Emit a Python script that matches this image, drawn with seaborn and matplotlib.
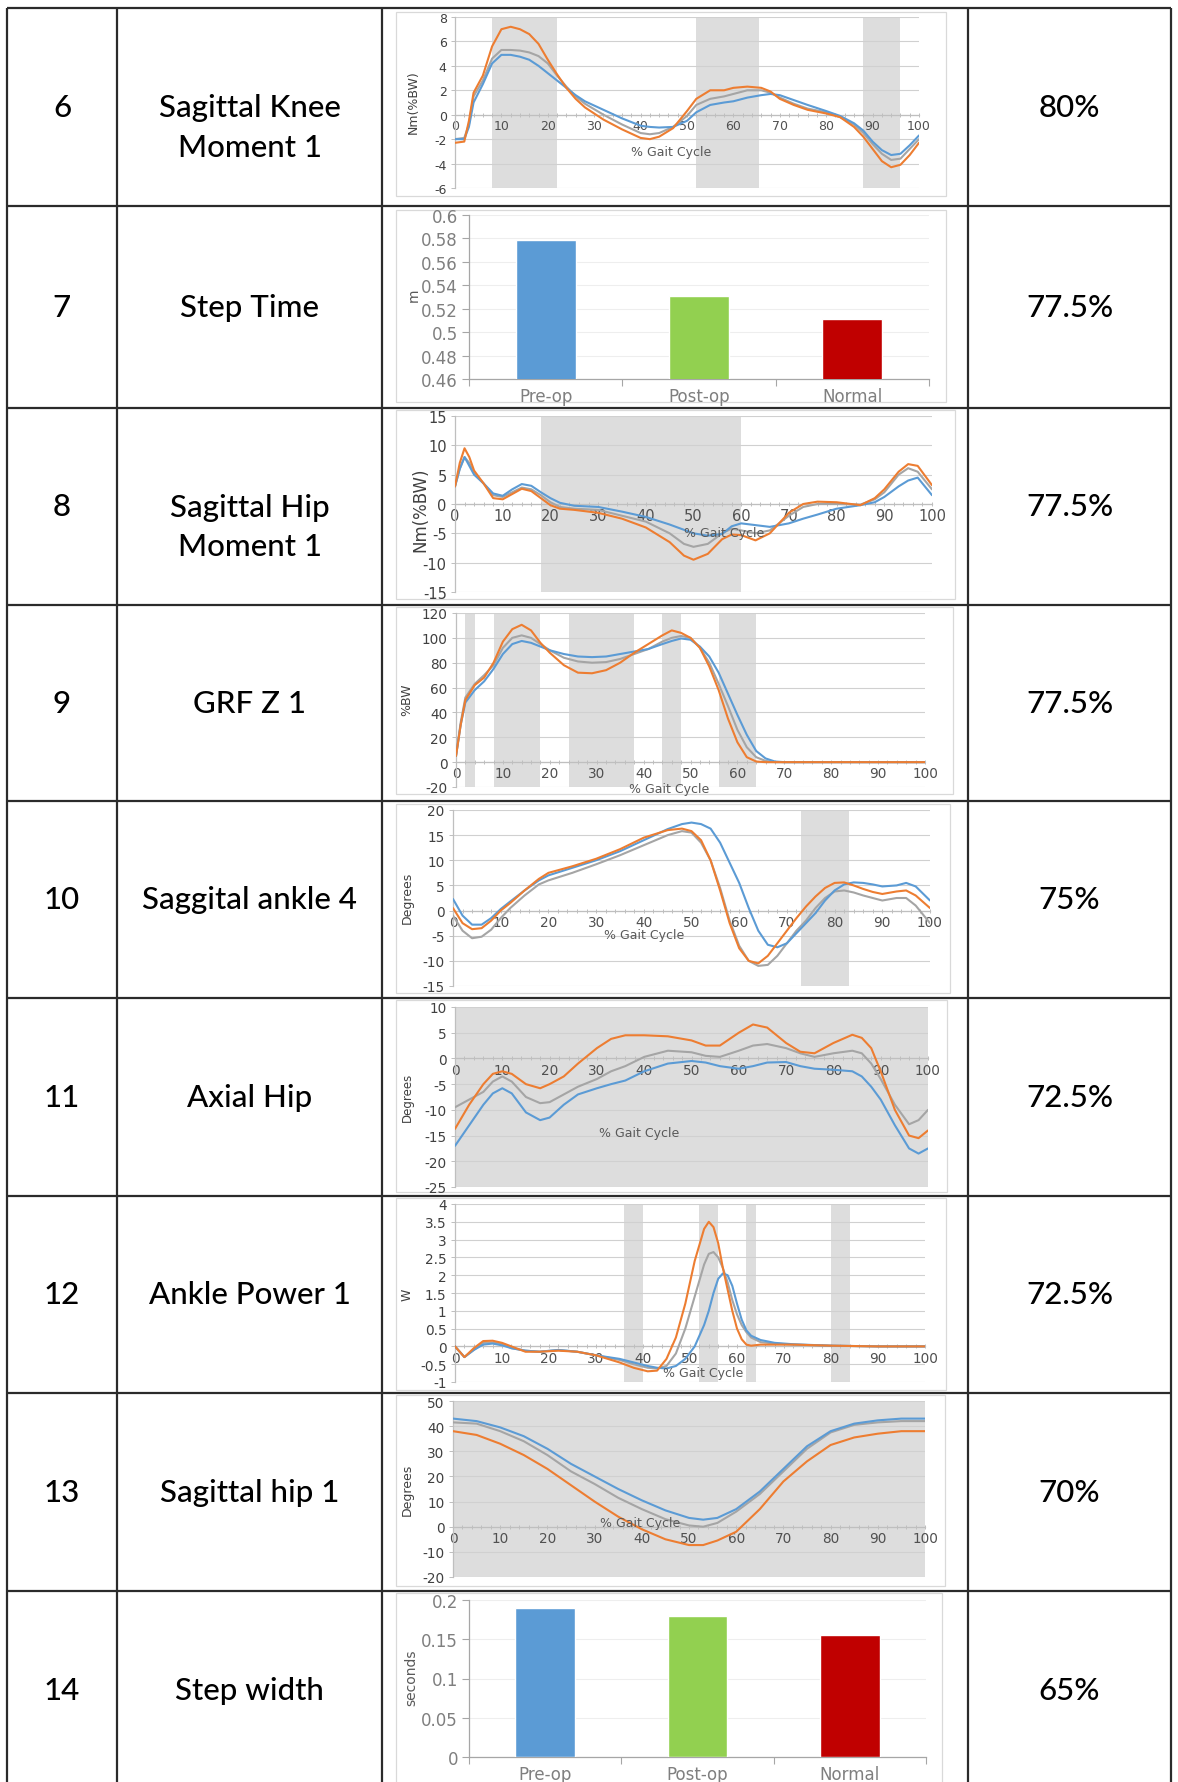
import matplotlib
matplotlib.use('Agg')
import matplotlib.pyplot as plt
import seaborn as sns
import pandas as pd
from matplotlib.patches import Rectangle
from matplotlib.ticker import MultipleLocator, FuncFormatter, FixedLocator

sns.set_theme(style='white')
plt.rcParams['font.family'] = ['DejaVu Sans']
plt.rcParams['axes.unicode_minus'] = False

W, H = 1178, 1783

# ---- table text ----
row_nums = ['6', '7', '8', '9', '10', '11', '12', '13', '14']
row_names = ['Sagittal Knee\nMoment 1', 'Step Time', 'Sagittal Hip\nMoment 1', 'GRF Z 1',
             'Saggital ankle 4', 'Axial Hip', 'Ankle Power 1', 'Sagittal hip 1', 'Step width']
row_pcts = ['80%', '77.5%', '77.5%', '77.5%', '75%', '72.5%', '72.5%', '70%', '65%']

# ---- bar charts ----
groups = ['Pre-op', 'Post-op', 'Normal']
step_time = [0.579, 0.531, 0.511]
step_width = [0.19, 0.18, 0.155]

# ---- Sagittal knee moment ----
knee_x = [0, 2, 3, 4, 6, 8, 10, 12, 14, 16, 18, 20, 22, 24, 26, 28, 32, 36, 40, 42, 44, 47, 50, 52,
          55, 58, 60, 63, 66, 68, 70, 73, 76, 80, 83, 86, 88, 90, 92, 94, 96, 98, 100]
knee_pre = [-2.0, -2.0, -1.0, 1.0, 2.5, 4.2, 4.9, 4.9, 4.75, 4.5, 4.0, 3.4, 2.8, 2.2, 1.6, 1.1, 0.4,
            -0.3, -0.9, -1.0, -1.05, -1.0, -0.5, 0.2, 0.8, 1.0, 1.1, 1.4, 1.6, 1.7, 1.6, 1.2, 0.8,
            0.3, -0.1, -0.7, -1.3, -2.2, -2.9, -3.3, -3.2, -2.5, -1.7]
knee_post = [-2.3, -2.2, -0.5, 1.8, 3.2, 5.6, 7.0, 7.2, 7.0, 6.6, 5.8, 4.5, 3.3, 2.2, 1.3, 0.6, -0.4,
             -1.2, -1.9, -2.0, -1.8, -1.1, 0.3, 1.3, 2.0, 2.0, 2.2, 2.3, 2.2, 1.9, 1.3, 0.8, 0.4,
             0.1, -0.2, -1.0, -1.8, -2.8, -3.8, -4.3, -4.1, -3.3, -2.3]
knee_norm = [-2.0, -1.9, -0.8, 1.5, 2.8, 4.6, 5.3, 5.3, 5.25, 5.1, 4.8, 4.2, 3.2, 2.3, 1.5, 0.9, 0.0,
             -0.8, -1.5, -1.6, -1.5, -1.0, -0.1, 0.8, 1.3, 1.5, 1.7, 2.0, 2.0, 1.8, 1.4, 0.9, 0.5,
             0.2, -0.2, -0.8, -1.5, -2.4, -3.2, -3.7, -3.6, -2.8, -2.0]

# ---- Sagittal hip moment ----
hipm_x = [0, 1, 2, 3, 4, 6, 8, 10, 12, 14, 16, 18, 20, 22, 25, 30, 35, 40, 45, 48,
          50, 53, 56, 58, 60, 63, 66, 70, 73, 76, 80, 85, 88, 90, 93, 95, 97, 100]
hipm_pre = [3, 6, 8, 6.5, 5, 3.5, 1.8, 1.4, 2.5, 3.4, 3.1, 2.0, 1.0, 0.2, -0.3, -0.5, -1.3, -2.2,
            -3.5, -4.4, -5.0, -5.4, -5.1, -3.8, -3.3, -3.6, -3.9, -3.3, -2.5, -1.8, -0.8, -0.2,
            0.3, 1.2, 3.0, 4.0, 4.5, 1.5]
hipm_post = [3, 7, 9.5, 8, 5.7, 3.5, 1.0, 0.8, 1.7, 2.6, 2.2, 1.0, -0.2, -0.8, -1.0, -1.5, -2.5,
             -4.0, -6.5, -8.8, -9.5, -8.5, -6.0, -5.2, -5.3, -6.2, -5.0, -1.5, 0.0, 0.4, 0.3,
             -0.2, 1.0, 2.5, 5.5, 6.8, 6.5, 3.2]
hipm_norm = [3, 6, 8, 7, 5.3, 3.5, 1.5, 1.2, 2.0, 2.8, 2.5, 1.5, 0.3, -0.5, -0.8, -1.0, -2.0, -3.0,
             -5.0, -6.8, -7.3, -6.8, -5.0, -4.2, -4.5, -5.0, -4.5, -2.0, -0.5, 0.0, 0.0, -0.1,
             0.8, 2.0, 5.0, 6.1, 5.5, 2.5]

# ---- GRF Z ----
grf_x = [0, 1, 2, 4, 6, 8, 10, 12, 14, 16, 18, 20, 23, 26, 29, 32, 35, 38, 41, 44,
         46, 48, 50, 52, 54, 56, 58, 60, 62, 64, 66, 68, 70, 80, 90, 100]
grf_pre = [5, 30, 48, 58, 65, 75, 87, 95, 97.5, 96, 93, 90, 87, 85, 84.5, 85, 87, 89, 91, 95,
           97.5, 99.5, 98.5, 93, 85, 72, 55, 38, 22, 9, 3, 0.5, 0, 0, 0, 0]
grf_post = [5, 30, 50, 62, 68, 80, 97, 107, 110.5, 106, 96, 88, 78, 72, 71.5, 74, 80, 88, 95, 102,
            106, 104, 100, 92, 77, 58, 35, 16, 4, 0.5, 0, 0, 0, 0, 0, 0]
grf_norm = [5, 32, 52, 63, 70, 78, 92, 100, 102, 100, 95, 90, 84, 81, 80, 80.5, 83, 87, 91, 97,
            100, 101.5, 100, 92, 80, 63, 45, 26, 12, 4, 1, 0, 0, 0, 0, 0]

# ---- Sagittal ankle ----
ank_x = [0, 2, 4, 6, 8, 10, 12, 15, 18, 20, 25, 30, 35, 40, 45, 48, 50, 52, 54, 56,
         58, 60, 62, 64, 66, 68, 70, 72, 74, 76, 78, 80, 82, 84, 86, 88, 90, 93, 95, 97, 100]
ank_pre = [2.3, -1.0, -2.8, -2.8, -1.5, 0.3, 1.8, 4.0, 6.0, 7.0, 8.5, 10.0, 11.8, 14.0, 16.2, 17.2,
           17.5, 17.2, 16.3, 13.5, 9.5, 5.5, 0.5, -4.0, -6.8, -7.3, -6.5, -4.5, -2.5, -0.5, 2.0,
           4.0, 5.2, 5.6, 5.5, 5.2, 4.8, 5.0, 5.5, 4.8, 2.0]
ank_post = [0.5, -2.5, -3.7, -3.5, -2.0, 0.0, 1.5, 4.0, 6.3, 7.5, 8.8, 10.3, 12.2, 14.5, 16.0, 16.3,
            15.8, 14.0, 10.0, 4.0, -2.5, -7.5, -10.0, -10.5, -9.0, -6.5, -4.0, -1.5, 0.8, 2.8,
            4.5, 5.5, 5.6, 5.0, 4.3, 3.7, 3.3, 3.8, 4.0, 3.0, 0.5]
ank_norm = [-1.0, -4.0, -5.5, -5.2, -3.8, -1.5, 0.5, 3.0, 5.2, 6.0, 7.5, 9.2, 11.0, 13.0, 15.0, 15.8,
            15.5, 13.5, 10.0, 4.5, -2.0, -7.0, -10.0, -11.0, -10.8, -9.0, -6.5, -4.0, -2.0, 0.5,
            2.5, 3.8, 4.0, 3.6, 3.0, 2.5, 2.0, 2.5, 2.5, 1.0, -2.5]

# ---- Axial hip ----
axh_x = [0, 3, 6, 8, 10, 12, 15, 18, 20, 23, 26, 30, 33, 36, 40, 45, 50, 53, 56, 60,
         63, 66, 70, 73, 76, 80, 84, 86, 88, 90, 93, 96, 98, 100]
axh_pre = [-17, -13, -9, -6.8, -5.8, -6.8, -10.5, -12, -11.5, -9, -7, -5.8, -5.0, -4.3, -2.5, -1.0,
           -0.5, -0.8, -1.5, -2.0, -1.5, -0.8, -0.7, -1.5, -2.0, -2.2, -2.5, -3.5, -5.5, -8,
           -13, -17.5, -18.5, -17.5]
axh_post = [-13.7, -9, -5, -3, -2.5, -3.0, -5.0, -5.8, -5.0, -3.5, -1.0, 2.0, 3.8, 4.5, 4.5, 4.3,
            3.5, 2.5, 2.5, 5.0, 6.6, 6.0, 3.0, 1.3, 1.0, 3.0, 4.6, 4.0, 2.0, -2.5, -10, -15,
            -15.5, -14]
axh_norm = [-9.5, -8, -6.5, -4.5, -3.5, -4.5, -7.5, -8.7, -8.5, -7.0, -5.5, -4.0, -2.5, -1.5, 0.3,
            1.5, 1.2, 0.5, 0.3, 1.5, 2.5, 2.8, 2.0, 1.0, 0.3, 1.0, 1.5, 1.0, -1.0, -4.0, -9,
            -12.8, -12, -10]

# ---- Ankle power ----
pow_x = [0, 2, 4, 6, 8, 10, 12, 15, 18, 22, 26, 30, 35, 38, 41, 43, 45, 47, 49, 51,
         53, 54, 55, 56, 57, 58, 59, 60, 61, 62, 63, 65, 68, 72, 80, 90, 100]
pow_pre = [0, -0.3, -0.1, 0.05, 0.08, 0.03, -0.05, -0.12, -0.15, -0.1, -0.15, -0.25, -0.35, -0.45,
           -0.55, -0.6, -0.62, -0.55, -0.35, 0.0, 0.6, 1.0, 1.5, 1.9, 2.05, 2.0, 1.7, 1.2, 0.75,
           0.45, 0.3, 0.18, 0.1, 0.06, 0.02, 0.0, 0.0]
pow_post = [0, -0.3, -0.05, 0.15, 0.16, 0.1, 0.0, -0.15, -0.15, -0.12, -0.15, -0.25, -0.45, -0.6,
            -0.7, -0.68, -0.35, 0.25, 1.2, 2.4, 3.3, 3.5, 3.35, 2.9, 2.2, 1.6, 1.0, 0.5, 0.2,
            0.05, 0.02, 0.05, 0.05, 0.05, 0.02, 0.0, 0.0]
pow_norm = [0, -0.3, -0.1, 0.1, 0.11, 0.07, -0.05, -0.12, -0.15, -0.1, -0.15, -0.25, -0.38, -0.5,
            -0.6, -0.62, -0.55, -0.2, 0.5, 1.4, 2.3, 2.6, 2.65, 2.5, 2.2, 1.8, 1.3, 0.9, 0.6,
            0.4, 0.25, 0.12, 0.08, 0.05, 0.02, 0.0, 0.0]

# ---- Sagittal hip ----
sh_x = [0, 5, 10, 15, 20, 25, 30, 35, 40, 45, 50, 53, 56, 60, 65, 70, 75, 80, 85, 90, 95, 100]
sh_pre = [43, 42, 39.5, 36, 31, 25, 20, 15, 10.5, 6.5, 3.5, 2.8, 3.5, 7, 14, 23, 32, 38, 41, 42.3, 43, 43]
sh_post = [38, 36.5, 33, 28.5, 23, 16.5, 10, 4, -1, -5, -7.3, -7.3, -5.5, -2, 7, 18, 26, 32.5, 35.5, 37, 38, 38]
sh_norm = [41.5, 41, 38, 34, 28.5, 22, 17, 11.5, 7, 3, 0.5, 0, 1.5, 6, 13, 22, 31, 37.5, 40.5, 41.5, 42, 42]

LINE_COLORS = {'Pre-op': '#5B9BD5', 'Post-op': '#ED7D31', 'Normal': '#A5A5A5'}
BAR_COLORS = {'Pre-op': '#5B9BD5', 'Post-op': '#92D050', 'Normal': '#C00000'}
SHADE = '#dddddd'
GRID = '#d0d0d0'
AXC = '#bfbfbf'
TXT = '#595959'
NARROW = ['Liberation Sans Narrow', 'DejaVu Sans']


def rect(x0, y0, x1, y1):
    return [x0 / W, 1 - y1 / H, (x1 - x0) / W, (y1 - y0) / H]


def gfmt(v, _):
    return f'{round(v, 4):g}'


fig = plt.figure(figsize=(W / 100, H / 100), dpi=100)

# ---- table grid and text ----
bg = fig.add_axes([0, 0, 1, 1])
bg.set_xlim(0, W)
bg.set_ylim(H, 0)
bg.axis('off')

row_y = [9, 207, 409, 606, 802, 999, 1197, 1394, 1592, 1790]
col_x = [7, 117, 382, 968, 1171]
for y in row_y[:-1]:
    bg.plot([col_x[0], col_x[-1]], [y, y], color='#2b2b2b', lw=1.6, solid_capstyle='butt')
for x in col_x:
    bg.plot([x, x], [row_y[0], H], color='#2b2b2b', lw=1.6, solid_capstyle='butt')

table_font = ['Lato', 'DejaVu Sans']
for i in range(len(row_nums)):
    cy = (row_y[i] + row_y[i + 1]) / 2
    bg.text((col_x[0] + col_x[1]) / 2, cy, row_nums[i], ha='center', va='center',
            fontsize=22.5, family=table_font, weight=500, color='black')
    for j, line in enumerate(row_names[i].split('\n')):
        bg.text((col_x[1] + col_x[2]) / 2, cy + 40 * j, line, ha='center', va='center',
                fontsize=22.5, family=table_font, weight=500, color='black')
    bg.text((col_x[3] + col_x[4]) / 2, cy, row_pcts[i], ha='center', va='center',
            fontsize=22.5, family=table_font, weight=500, color='black')

# chart frames
frames = [(396, 13, 946, 197), (396, 211, 946, 403), (396, 411, 955, 600), (396, 608, 953, 795),
          (396, 805, 950, 994), (396, 1001, 947, 1193), (396, 1199, 946, 1391),
          (396, 1396, 945, 1587), (396, 1594, 942, 1800)]
for x0, y0, x1, y1 in frames:
    bg.add_patch(Rectangle((x0, y0), x1 - x0, y1 - y0, fill=False, ec='#d9d9d9', lw=0.9))


def gait_chart(box, x, pre, post, norm, ylim, ystep, spans, xlab, ylab, ylab_px,
               ylab_size=9, tick_size=9.8):
    ax = fig.add_axes(rect(*box))
    ax.patch.set_alpha(0)
    df = pd.DataFrame({'x': x, 'Pre-op': pre, 'Post-op': post, 'Normal': norm})
    df = df.melt('x', var_name='group', value_name='y')
    for a, b in spans:
        ax.axvspan(a, b, color=SHADE, lw=0, zorder=0)
    sns.lineplot(data=df, x='x', y='y', hue='group', hue_order=['Normal', 'Pre-op', 'Post-op'],
                 palette=LINE_COLORS, ax=ax, lw=1.5, legend=False, zorder=3)
    ax.set_xlim(0, 100)
    ax.set_ylim(*ylim)
    ax.xaxis.set_major_locator(MultipleLocator(10))
    ax.xaxis.set_minor_locator(MultipleLocator(2))
    ax.yaxis.set_major_locator(MultipleLocator(ystep))
    ax.yaxis.set_major_formatter(FuncFormatter(gfmt))
    ax.grid(axis='y', color=GRID, lw=0.8)
    ax.grid(axis='x', visible=False)
    for s in ['top', 'right']:
        ax.spines[s].set_visible(False)
    ax.spines['bottom'].set_position(('data', 0))
    ax.spines['bottom'].set_color(AXC)
    ax.spines['left'].set_color(AXC)
    ax.spines['bottom'].set_linewidth(0.9)
    ax.spines['left'].set_linewidth(0.9)
    ax.tick_params(axis='x', which='both', direction='inout', length=3, width=0.7, color=AXC,
                   labelsize=tick_size, labelcolor='#505050', pad=1.5, bottom=True)
    ax.tick_params(axis='y', direction='out', length=3, width=0.7, color=AXC,
                   labelsize=tick_size, labelcolor='#404040', pad=3, left=True)
    ax.set_xlabel('')
    ax.set_ylabel('')
    ax.text(xlab[0], xlab[1], '% Gait Cycle', ha='center', va='center', fontsize=9,
            color=TXT, zorder=5)
    fig.text(ylab_px[0] / W, 1 - ylab_px[1] / H, ylab, rotation=90, ha='center', va='center',
             fontsize=ylab_size, family=NARROW, color='#404040')
    return ax


def bar_chart(box, vals, ylim, ystep, ylab, ylab_px, ylab_size=10):
    ax = fig.add_axes(rect(*box))
    ax.patch.set_alpha(0)
    df = pd.DataFrame({'group': groups, 'value': vals})
    sns.barplot(data=df, x='group', y='value', hue='group', palette=BAR_COLORS, width=0.39,
                ax=ax, legend=False, saturation=1, zorder=3)
    ax.set_xlim(-0.5, 2.5)
    ax.set_ylim(*ylim)
    ax.yaxis.set_major_locator(MultipleLocator(ystep))
    ax.yaxis.set_major_formatter(FuncFormatter(gfmt))
    ax.xaxis.set_minor_locator(FixedLocator([-0.5, 0.5, 1.5, 2.5]))
    ax.grid(axis='y', color='#eeeeee', lw=0.8)
    ax.grid(axis='x', visible=False)
    for s in ['top', 'right']:
        ax.spines[s].set_visible(False)
    for s in ['bottom', 'left']:
        ax.spines[s].set_color('#a6a6a6')
        ax.spines[s].set_linewidth(0.9)
    ax.tick_params(axis='x', which='major', length=0, labelsize=12, labelcolor='#7f7f7f', pad=6)
    ax.tick_params(axis='x', which='minor', direction='out', length=5, width=0.8,
                   color='#a6a6a6', bottom=True)
    ax.tick_params(axis='y', direction='out', length=5, width=0.8, color='#a6a6a6',
                   labelsize=12, labelcolor='#7f7f7f', pad=3, left=True)
    ax.set_xlabel('')
    ax.set_ylabel('')
    fig.text(ylab_px[0] / W, 1 - ylab_px[1] / H, ylab, rotation=90, ha='center', va='center',
             fontsize=ylab_size, family=NARROW, color='#595959')
    return ax


gait_chart((455, 18, 919, 189), knee_x, knee_pre, knee_post, knee_norm, (-6, 8), 2,
           [(8, 22), (52, 65.5), (88, 96)], (46.5, -3.0), 'Nm(%BW)', (413, 102), tick_size=9)
bar_chart((469, 216, 929, 380), step_time, (0.46, 0.6), 0.02, 'm', (414, 295))
gait_chart((455, 417, 932, 593), hipm_x, hipm_pre, hipm_post, hipm_norm, (-15, 15), 5,
           [(18, 60)], (56.4, -4.8), 'Nm(%BW)', (420, 510), ylab_size=12, tick_size=10.5)
gait_chart((456, 614, 925, 788), grf_x, grf_pre, grf_post, grf_norm, (-20, 120), 20,
           [(2, 4), (8, 18), (24, 38), (44, 48), (56, 64)], (45.4, -21.0), '%BW', (407, 700))
gait_chart((453, 811, 930, 987), ank_x, ank_pre, ank_post, ank_norm, (-15, 20), 5,
           [(73, 83)], (40, -4.8), 'Degrees', (407, 898))
gait_chart((455, 1008, 928, 1188), axh_x, axh_pre, axh_post, axh_norm, (-25, 10), 5,
           [(0, 100)], (39, -14.5), 'Degrees', (407, 1097), ylab_size=8.5)
gait_chart((455, 1205, 925, 1383), pow_x, pow_pre, pow_post, pow_norm, (-1, 4), 0.5,
           [(36, 40), (52, 56), (62, 64), (80, 84)], (52.8, -0.74), 'W', (407, 1295))
gait_chart((453, 1402, 925, 1578), sh_x, sh_pre, sh_post, sh_norm, (-20, 50), 10,
           [(0, 100)], (39.6, 1.6), 'Degrees', (407, 1490))
bar_chart((469, 1601, 926, 1758), step_width, (0, 0.2), 0.05, 'seconds', (411, 1678))

fig.savefig('out.png', dpi=100)
